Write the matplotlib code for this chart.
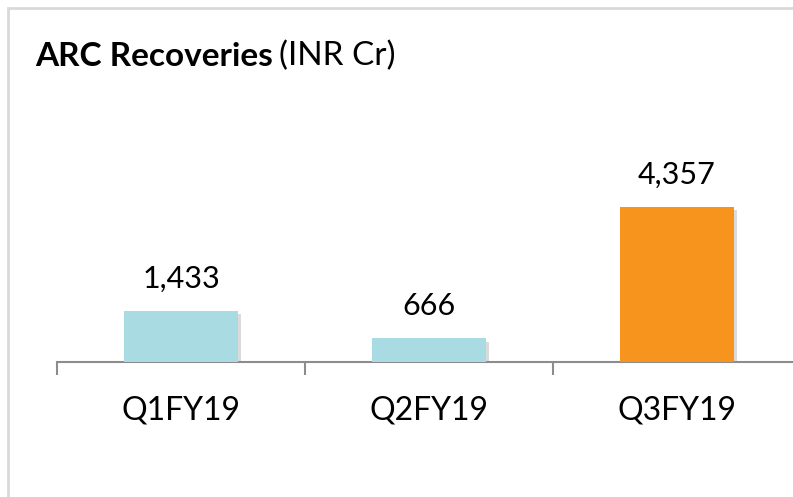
import matplotlib
matplotlib.use("Agg")
import matplotlib.pyplot as plt
from matplotlib.patches import Rectangle
import matplotlib.patheffects as pe

# ==== data ====
quarters = ["Q1FY19", "Q2FY19", "Q3FY19"]
recoveries = [1433, 666, 4357]
bar_colors = ["#A9DCE2", "#A9DCE2", "#F7941E"]

plt.rcParams['font.family'] = ['Lato', 'DejaVu Sans']

fig = plt.figure(figsize=(7.93, 4.97), dpi=100)

# light gray frame around the chart (runs off right/bottom edge)
fig.patches.append(Rectangle((8 / 793, -0.1), 1.2, 1 - 8 / 497 + 0.1,
                             transform=fig.transFigure, fill=False,
                             edgecolor="#d9d9d9", linewidth=2))

ax = fig.add_axes([57 / 793, (497 - 362) / 497, 744 / 793, 262 / 497])
x = range(len(quarters))
bars = ax.bar(x, recoveries, width=0.456, color=bar_colors, zorder=3)
for b in bars:
    b.set_path_effects([pe.SimplePatchShadow(offset=(2.5, -2.5), shadow_rgbFace="#8a8a8a", alpha=0.3),
                        pe.Normal()])

for xi, v in zip(x, recoveries):
    ax.annotate(f"{v:,}", (xi, v), xytext=(0, 13), textcoords="offset points",
                ha="center", va="bottom", fontsize=22, color="black")

ax.set_xlim(-0.5, 2.5)
ax.set_ylim(0, 7360)
for s in ["top", "right", "left"]:
    ax.spines[s].set_visible(False)
ax.spines["bottom"].set_color("#8c8c8c")
ax.spines["bottom"].set_linewidth(1.5)
ax.set_yticks([])
ax.set_xticks([-0.5, 0.5, 1.5, 2.5])
ax.set_xticklabels([])
ax.tick_params(axis="x", which="major", direction="out", length=9, width=1.5, color="#8c8c8c")
ax.set_xticks(list(x), minor=True)
ax.set_xticklabels(quarters, minor=True, fontsize=23)
ax.tick_params(axis="x", which="minor", length=0, pad=24)

# title: bold part + normal part
t1 = fig.text(35 / 793, 1 - 56 / 497, "ARC Recoveries", fontsize=24, fontweight="bold",
              va="center", ha="left")
fig.canvas.draw()
bb = t1.get_window_extent()
fig.text(bb.x1 / fig.bbox.width + 6 / 793, 1 - 56 / 497, "(INR Cr)", fontsize=24,
         va="center", ha="left")

fig.savefig("out.png", dpi=100)
